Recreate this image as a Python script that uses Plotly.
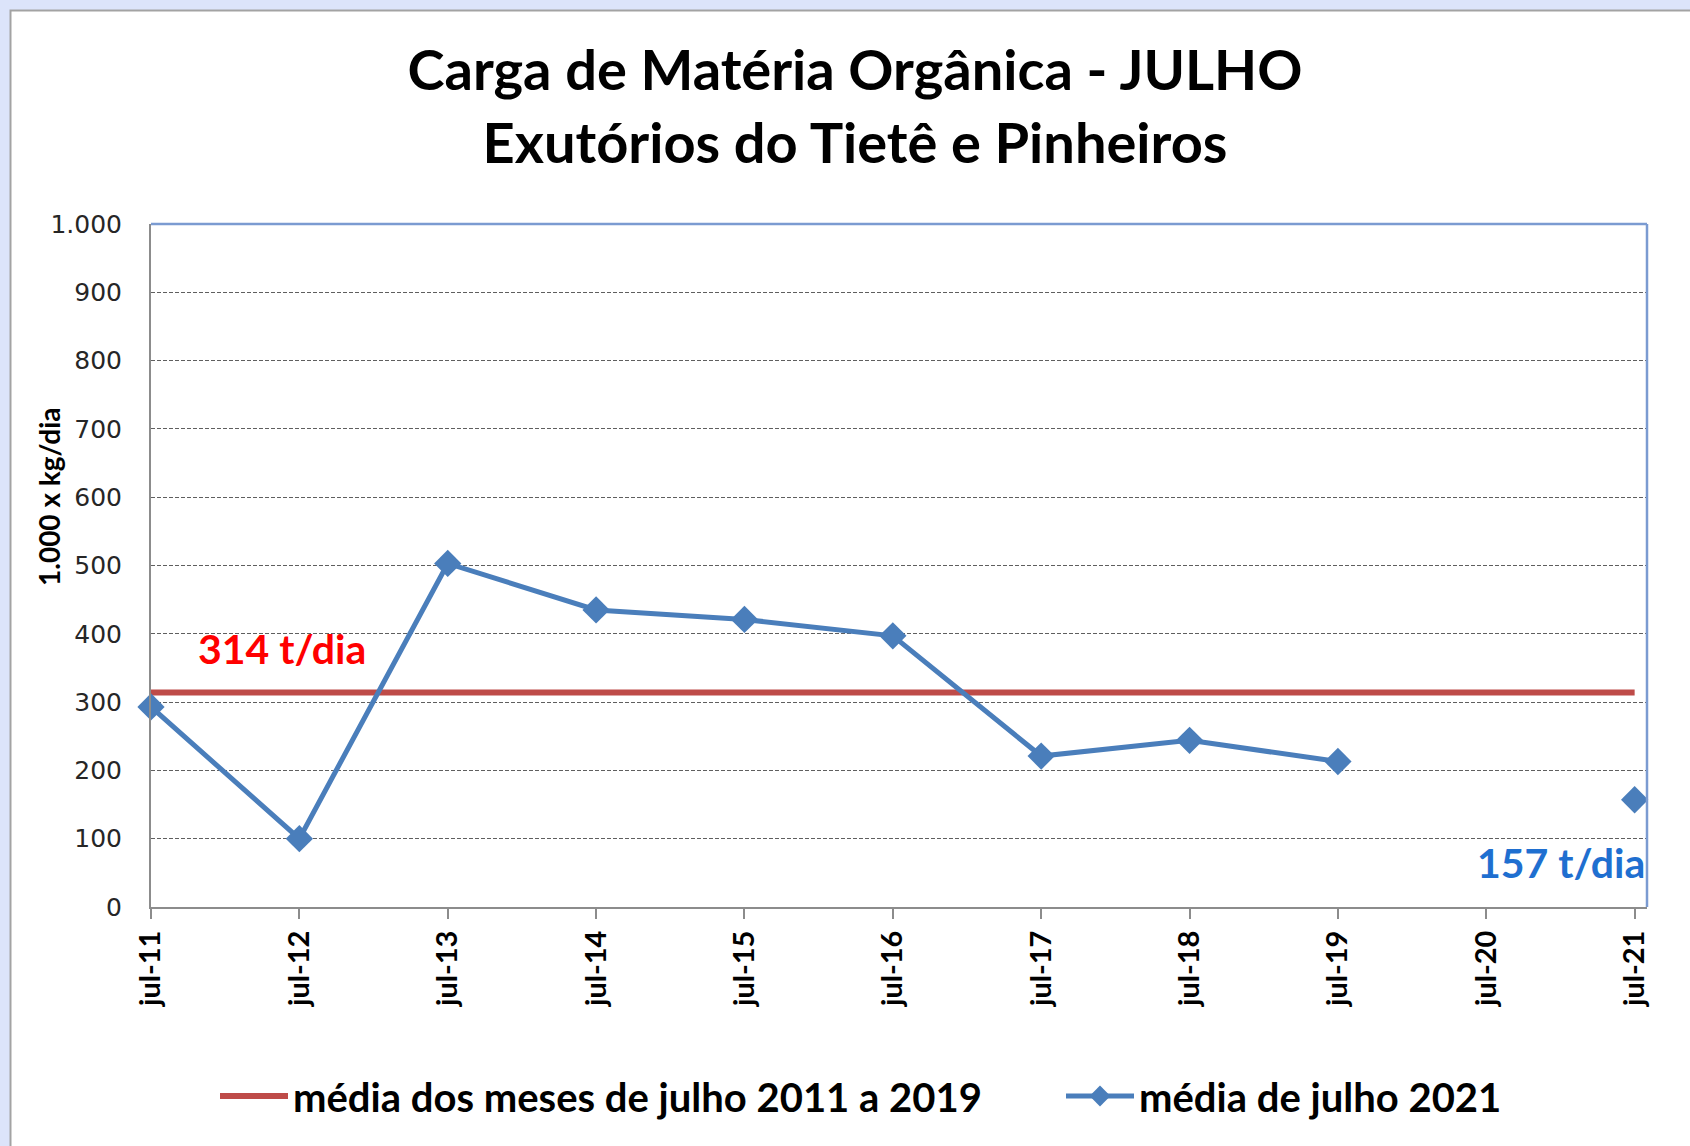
import plotly.graph_objects as go

# ---- data ----
categories = ["jul-11", "jul-12", "jul-13", "jul-14", "jul-15", "jul-16",
              "jul-17", "jul-18", "jul-19", "jul-20", "jul-21"]
carga_julho = [293, 100, 503, 435, 421, 397, 221, 244, 213, None, 157]
media_2011_2019 = 314
y_ticks = [0, 100, 200, 300, 400, 500, 600, 700, 800, 900, 1000]
y_ticktext = ["0", "100", "200", "300", "400", "500", "600", "700", "800", "900", "1.000"]

series_media_name = "média dos meses de julho 2011 a 2019"
series_julho_name = "média de julho 2021"
label_media = "314 t/dia"
label_2021 = "157 t/dia"

x_idx = list(range(len(categories)))

# ---- figure geometry (px) ----
W, H = 1690, 1146
L, R, T, B = 151, 1690 - 1647, 224, 1146 - 907
PW, PH = W - L - R, H - T - B

def px_x(px):
    return (px - L) / PW

def px_y(py):
    return (H - B - py) / PH

FONT = "Lato, 'Open Sans', sans-serif"
BLUE = "#4a7ebb"
RED = "#be4b48"

fig = go.Figure()

fig.add_trace(go.Scatter(
    x=x_idx, y=[media_2011_2019] * len(categories),
    mode="lines", name=series_media_name,
    line=dict(color=RED, width=6),
    cliponaxis=False, legend="legend",
))
fig.add_trace(go.Scatter(
    x=x_idx, y=carga_julho,
    mode="lines+markers", name=series_julho_name,
    line=dict(color=BLUE, width=5),
    marker=dict(symbol="diamond", size=21, color=BLUE),
    connectgaps=False,
    cliponaxis=False, legend="legend2",
))

xmax = (len(categories) - 1) + 1 / 12.0

fig.update_xaxes(
    range=[0, xmax],
    tickvals=x_idx, ticktext=categories,
    tickangle=-90,
    tickfont=dict(family=FONT, size=29, color="#000000", weight="bold"),
    ticks="outside", ticklen=10, tickwidth=2, tickcolor="#8c8c8c",
    showline=True, linecolor="#8c8c8c", linewidth=2,
    showgrid=False, zeroline=False, automargin=False,
)
fig.update_yaxes(
    range=[0, 1000],
    tickvals=y_ticks, ticktext=y_ticktext,
    tickfont=dict(family="DejaVu Sans", size=25, color="#262626"),
    ticks="outside", ticklen=6, tickcolor="rgba(0,0,0,0)",
    ticklabelstandoff=16,
    showline=True, linecolor="#8c8c8c", linewidth=2,
    showgrid=True, gridcolor="#5f5f5f", gridwidth=1, griddash="4px,2px",
    zeroline=False, automargin=False,
)

# background chart-area panel (white, grey frame) on light blue page
fig.add_shape(type="rect", xref="paper", yref="paper",
              x0=px_x(10.5), x1=px_x(W + 20), y0=px_y(10.5), y1=px_y(H + 20),
              fillcolor="white", line=dict(color="#a3a3a3", width=2), layer="below")
# top and right plot-area border (blue)
fig.add_shape(type="line", xref="paper", yref="paper", x0=0, x1=1, y0=1, y1=1,
              line=dict(color="#7b9bd1", width=2.5), layer="above")
fig.add_shape(type="line", xref="paper", yref="paper", x0=1, x1=1, y0=0, y1=1,
              line=dict(color="#7b9bd1", width=2.5), layer="above")

fig.add_annotation(
    x=0.30, y=378, xref="x", yref="y", text=label_media, showarrow=False,
    xanchor="left", yanchor="middle",
    font=dict(family=FONT, size=41, color="#ff0000", weight="bold"),
)
fig.add_annotation(
    x=xmax, y=65, xref="x", yref="y", text=label_2021, showarrow=False,
    xanchor="right", yanchor="middle",
    font=dict(family=FONT, size=41, color="#1f6fd0", weight="bold"),
)
fig.add_annotation(
    x=px_x(49), y=px_y(497), xref="paper", yref="paper",
    xanchor="center", yanchor="middle",
    text="1.000 x kg/dia", showarrow=False, textangle=-90,
    font=dict(family=FONT, size=28, color="#000000", weight="bold"),
)

legend_font = dict(family=FONT, size=40, color="#000000", weight="bold")

fig.update_layout(
    width=W, height=H,
    margin=dict(l=L, r=R, t=T, b=B, pad=0, autoexpand=False),
    paper_bgcolor="#dce4fa",
    plot_bgcolor="white",
    title=dict(
        text="Carga de Matéria Orgânica - JULHO<br>Exutórios do Tietê e Pinheiros",
        x=855 / W, xanchor="center", y=1 - 90 / H, yanchor="middle",
        font=dict(family=FONT, size=56, color="#000000", weight="bold"),
    ),
    showlegend=True,
    legend=dict(
        orientation="h", x=px_x(215), y=px_y(1096), xanchor="left", yanchor="middle",
        font=legend_font, bgcolor="rgba(0,0,0,0)", itemwidth=68,
    ),
    legend2=dict(
        orientation="h", x=px_x(1061), y=px_y(1096), xanchor="left", yanchor="middle",
        font=legend_font, bgcolor="rgba(0,0,0,0)", itemwidth=68,
    ),
)

fig.write_html("out.html", config={"displayModeBar": False},
               post_script="document.body.style.margin='0';")
